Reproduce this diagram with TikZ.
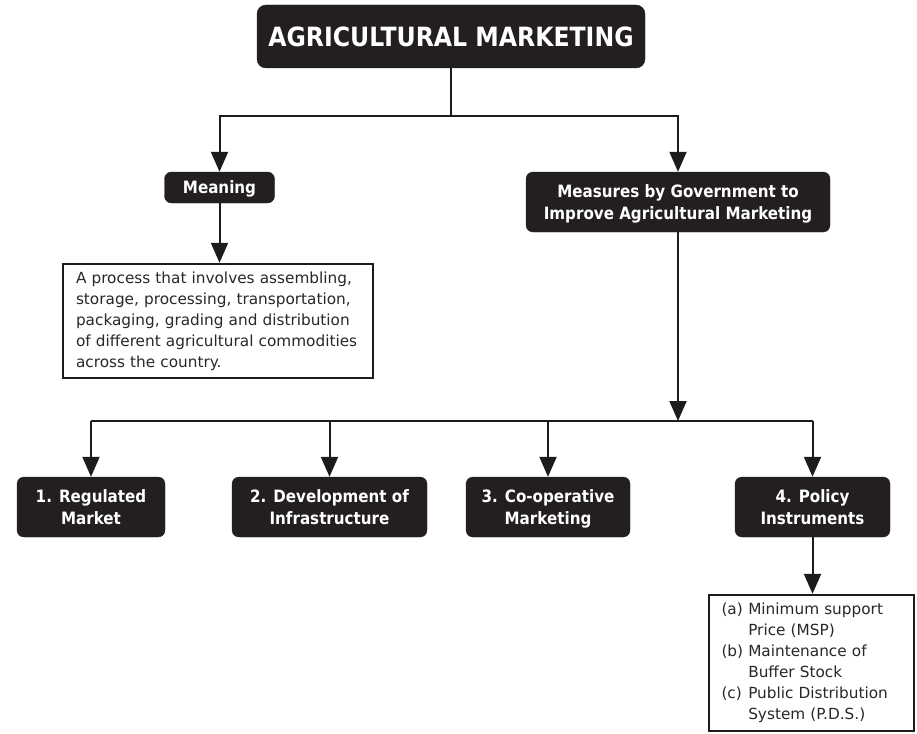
\documentclass[tikz,border=0pt]{standalone}
\usepackage{fontspec}
\setmainfont{DejaVu Sans}[BoldFeatures={FakeStretch=0.89}]
\usetikzlibrary{arrows.meta,positioning}
\definecolor{boxblack}{RGB}{35,31,32}
\definecolor{linegrey}{RGB}{28,28,28}
\definecolor{textgrey}{RGB}{40,40,40}

\begin{document}
\begin{tikzpicture}[x=1pt,y=-1pt,
    dark/.style={fill=boxblack,draw=boxblack,rounded corners=7pt,text=white,
                 font=\fontsize{17}{22}\selectfont\bfseries,align=center,inner sep=0pt,
                 text depth=0pt},
    lite/.style={draw=linegrey,line width=2.4pt,fill=white,text=textgrey,
                 font=\fontsize{15.3}{21}\selectfont,inner sep=0pt},
    arr/.style={line width=2pt,draw=linegrey,-{Triangle[length=20pt,width=17pt]}},
    ln/.style={line width=2pt,draw=linegrey}]
\useasboundingbox (0,0) rectangle (917,733);
\node[dark,minimum width=388pt,minimum height=63pt,rounded corners=9pt,
      font=\fontsize{26.5}{30}\selectfont\bfseries] (title) at (451,36.5) {AGRICULTURAL MARKETING};
\node[dark,minimum width=110pt,minimum height=31pt] (meaning) at (219.5,187.5) {Meaning};
\node[lite,minimum width=310pt,minimum height=114pt,text width=284pt,align=left] (process) at (218,321)
  {A process that involves assembling,\\storage, processing, transportation,\\packaging, grading and distribution\\of different agricultural commodities\\across the country.};
\node[dark,minimum width=304pt,minimum height=60pt] (measures) at (678,202)
  {Measures by Government to\\Improve Agricultural Marketing};
% measures taken
\node[dark,minimum width=148pt,minimum height=60pt] (regulated) at (91,507) {1. Regulated\\Market};
\node[dark,minimum width=195pt,minimum height=60pt] (infra) at (329.5,507) {2. Development of\\Infrastructure};
\node[dark,minimum width=164pt,minimum height=60pt] (coop) at (548,507) {3. Co-operative\\Marketing};
\node[dark,minimum width=155pt,minimum height=60pt] (policy) at (812.5,507) {4. Policy\\Instruments};
\node[lite,minimum width=205pt,minimum height=136pt,text width=180pt,align=left] (tools) at (811.5,663)
  {\begin{tabular}{@{}l@{ }l@{}}(a) & Minimum support\\ & Price (MSP)\\ (b) & Maintenance of\\ & Buffer Stock\\ (c) & Public Distribution\\ & System (P.D.S.)\end{tabular}};
% connectors
\coordinate (split) at (451,116);
\coordinate (branch) at (678,421);
\draw[ln] (title.south) -- (split);
\draw[arr] (split) -| (meaning.north);
\draw[arr] (split) -| (measures.north);
\draw[arr] (meaning.south) -- (meaning.south |- process.north);
\draw[arr] (measures.south) -- (branch);
\draw[ln] (regulated.north |- branch) -- (policy.north |- branch);
\foreach \n in {regulated,infra,coop,policy}
  \draw[arr] (\n.north |- branch) -- (\n.north);
\draw[arr] (policy.south) -- (policy.south |- tools.north);
\end{tikzpicture}
\end{document}
